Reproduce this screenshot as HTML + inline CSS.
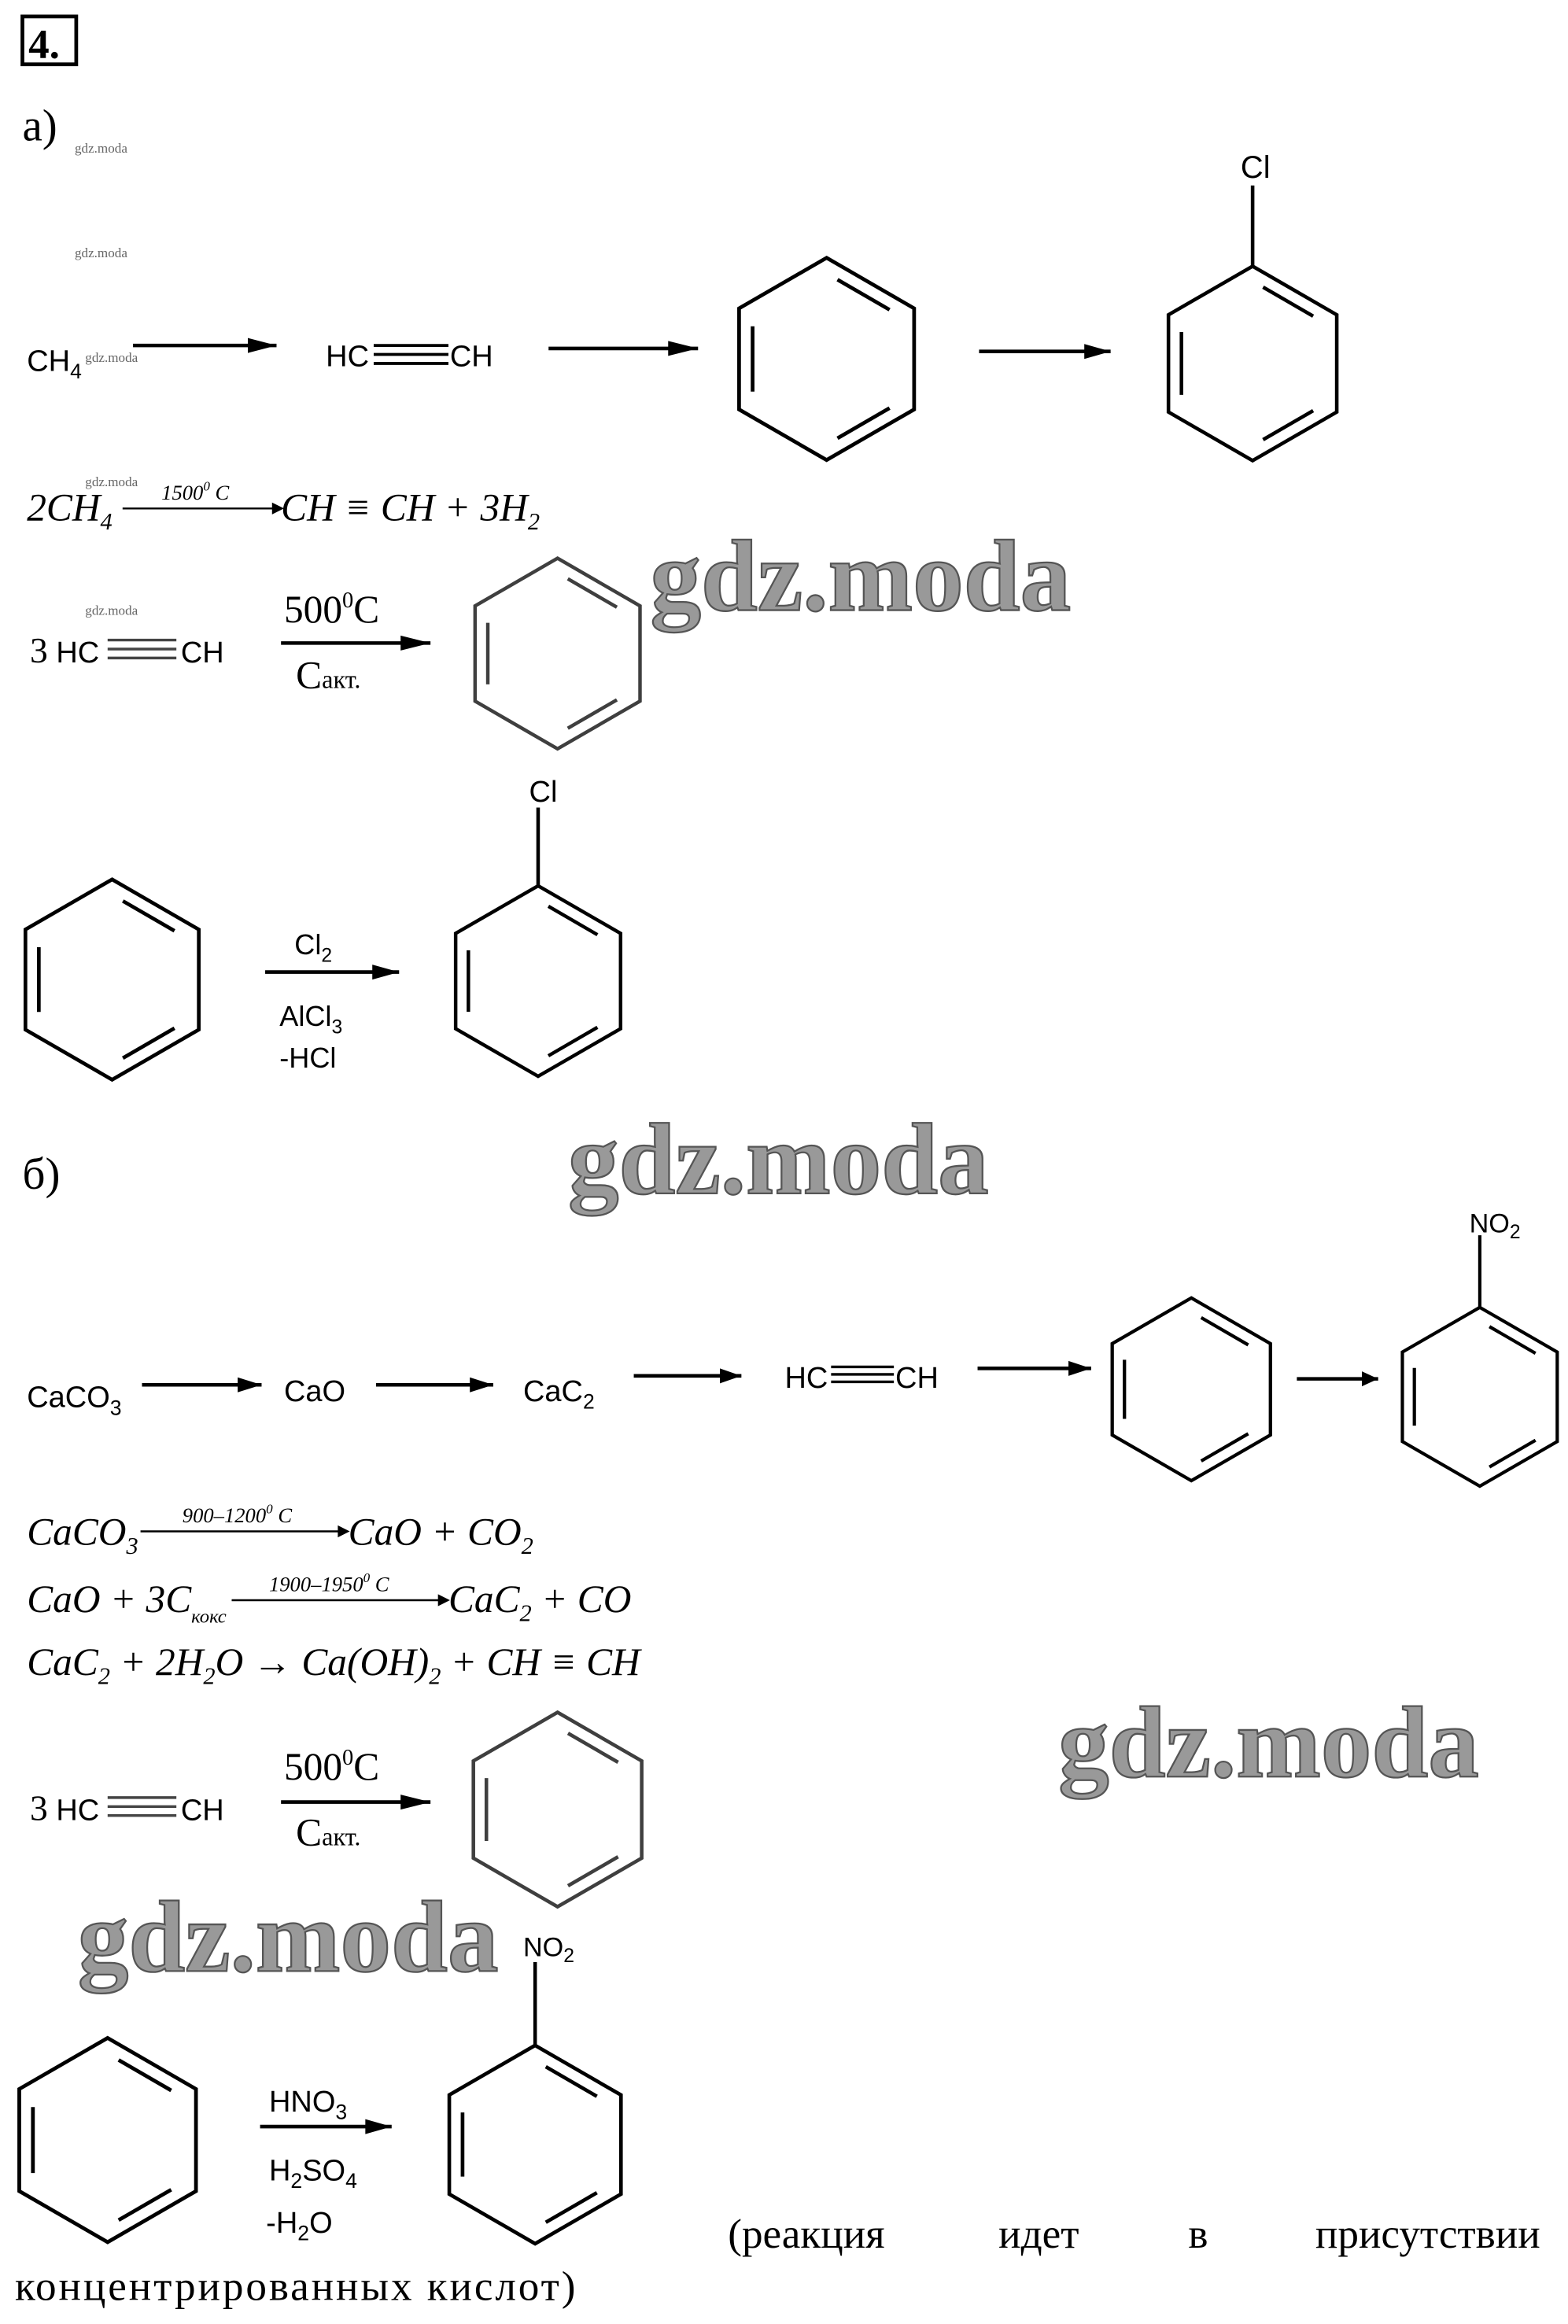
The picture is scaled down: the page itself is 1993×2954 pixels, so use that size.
<!DOCTYPE html>
<html><head><meta charset="utf-8"><style>
html,body{margin:0;padding:0;background:#fff}
svg{display:block}
.s{font-family:"Liberation Sans",sans-serif;fill:#000}
.t{font-family:"Liberation Serif","DejaVu Serif",serif;fill:#000}
.i{font-family:"Liberation Serif",serif;font-style:italic;fill:#000}
.w{font-family:"Liberation Serif",serif;font-weight:bold;fill:#999;stroke:#555;stroke-width:1.2}
.sw{font-family:"Liberation Serif",serif;fill:#666;font-size:9px}
</style></head><body>
<svg width="1993" height="2954" viewBox="0 0 1049 1554" preserveAspectRatio="none" xmlns="http://www.w3.org/2000/svg">
<defs>
<g id="bz" fill="none" stroke="#000" stroke-width="2.4">
<polygon points="0,-65 56.3,-32.5 56.3,32.5 0,65 -56.3,32.5 -56.3,-32.5"/>
<line x1="7" y1="-51" x2="40.5" y2="-31.6"/>
<line x1="-47.6" y1="-21" x2="-47.6" y2="21"/>
<line x1="40.5" y1="31.6" x2="7" y2="51"/>
</g>
<g id="ar"><line x1="0" y1="0" x2="-80" y2="0" stroke="#000" stroke-width="2.4"/><polygon points="0,0 -16,-5 -16,5" fill="#000"/></g>
</defs>
<rect x="15" y="11" width="36" height="32" fill="none" stroke="#000" stroke-width="2.5"/>
<text x="19" y="39" class="t" font-size="28" font-weight="bold">4.</text>
<text x="15" y="94" class="t" font-size="30">а)</text>
<text x="50" y="102" class="sw">gdz.moda</text>
<text x="50" y="172" class="sw">gdz.moda</text>
<text x="57" y="242" class="sw">gdz.moda</text>
<text x="57" y="325" class="sw">gdz.moda</text>
<text x="57" y="411" class="sw">gdz.moda</text>
<!-- row a -->
<text x="18" y="248" class="s" font-size="20">CH<tspan font-size="14" dy="5">4</tspan></text>
<use href="#ar" transform="translate(185,231) scale(1.2,1)"/>
<text x="218" y="245" class="s" font-size="20">HC</text><g stroke="#000" stroke-width="2"><line x1="250" y1="231" x2="300" y2="231"/><line x1="250" y1="237" x2="300" y2="237"/><line x1="250" y1="243" x2="300" y2="243"/></g><text x="301" y="245" class="s" font-size="20">CH</text>
<use href="#ar" transform="translate(467,233) scale(1.25,1)"/>
<use href="#bz" transform="translate(553,240) scale(1.04)"/>
<use href="#ar" transform="translate(743,235) scale(1.1,1)"/>
<use href="#bz" transform="translate(838,243) scale(1.0)"/>
<line x1="838" y1="178" x2="838" y2="124" stroke="#000" stroke-width="2.4"/>
<text x="830" y="119" class="s" font-size="21">Cl</text>
<!-- eq 1 -->
<text x="18" y="348" class="i" font-size="26">2CH<tspan font-size="16" dy="6">4</tspan></text>
<line x1="82" y1="340" x2="186" y2="340" stroke="#000" stroke-width="1.3"/><polygon points="190,340 182,336 182,344" fill="#000"/>
<text x="108" y="334" class="i" font-size="14">1500<tspan font-size="9" dy="-6">0</tspan><tspan dy="6"> C</tspan></text>
<text x="188" y="348" class="i" font-size="26">CH ≡ CH + 3H<tspan font-size="16" dy="6">2</tspan></text>
<!-- 3HC≡CH -->
<text x="20" y="443" class="s" font-size="20" fill="#333"><tspan font-family="Liberation Serif" font-size="24">3</tspan> HC</text>
<g stroke="#444" stroke-width="1.8"><line x1="72" y1="428" x2="118" y2="428"/><line x1="72" y1="434" x2="118" y2="434"/><line x1="72" y1="440" x2="118" y2="440"/></g>
<text x="121" y="443" class="s" font-size="20" fill="#333">CH</text>
<text x="190" y="416" class="t" font-size="26">500<tspan font-size="15" dy="-10">0</tspan><tspan dy="10">C</tspan></text>
<use href="#ar" transform="translate(288,430) scale(1.25,1)"/>
<text x="198" y="460" class="t" font-size="26">С<tspan font-size="17">акт.</tspan></text>
<g opacity="0.75"><use href="#bz" transform="translate(373,437) scale(0.98)"/></g>
<text x="435" y="408" class="w" font-size="68">gdz.moda</text>
<!-- Cl reaction -->
<use href="#bz" transform="translate(75,655) scale(1.03)"/>
<text x="197" y="638" class="s" font-size="19">Cl<tspan font-size="13" dy="5">2</tspan></text>
<use href="#ar" transform="translate(267,650) scale(1.12,1)"/>
<text x="187" y="686" class="s" font-size="19">AlCl<tspan font-size="13" dy="5">3</tspan></text>
<text x="187" y="714" class="s" font-size="19">-HCl</text>
<use href="#bz" transform="translate(360,656) scale(0.98)"/>
<line x1="360" y1="592" x2="360" y2="540" stroke="#000" stroke-width="2.4"/>
<text x="354" y="536" class="s" font-size="20">Cl</text>
<!-- б -->
<text x="15" y="795" class="t" font-size="30">б)</text>
<text x="380" y="798" class="w" font-size="68">gdz.moda</text>
<text x="18" y="941" class="s" font-size="20">CaCO<tspan font-size="14" dy="5">3</tspan></text>
<use href="#ar" transform="translate(175,926) scale(1,1)"/>
<text x="190" y="937" class="s" font-size="20">CaO</text>
<use href="#ar" transform="translate(330,926) scale(0.98,1)"/>
<text x="350" y="937" class="s" font-size="20">CaC<tspan font-size="14" dy="5">2</tspan></text>
<use href="#ar" transform="translate(496,920) scale(0.9,1)"/>
<text x="525" y="928" class="s" font-size="20">HC</text><g stroke="#000" stroke-width="1.8"><line x1="556" y1="914" x2="598" y2="914"/><line x1="556" y1="919" x2="598" y2="919"/><line x1="556" y1="924" x2="598" y2="924"/></g><text x="599" y="928" class="s" font-size="20">CH</text>
<use href="#ar" transform="translate(730,915) scale(0.95,1)"/>
<use href="#bz" transform="translate(797,929) scale(0.94)"/>
<use href="#ar" transform="translate(922,922) scale(0.68,1)"/>
<use href="#bz" transform="translate(990,934) scale(0.92)"/>
<line x1="990" y1="874" x2="990" y2="826" stroke="#000" stroke-width="2.2"/>
<text x="983" y="824" class="s" font-size="18">NO<tspan font-size="13" dy="4">2</tspan></text>
<!-- eqs -->
<text x="18" y="1033" class="i" font-size="26">CaCO<tspan font-size="16" dy="6">3</tspan></text>
<line x1="94" y1="1024" x2="230" y2="1024" stroke="#000" stroke-width="1.3"/><polygon points="234,1024 226,1020 226,1028" fill="#000"/>
<text x="122" y="1018" class="i" font-size="14">900–1200<tspan font-size="9" dy="-6">0</tspan><tspan dy="6"> C</tspan></text>
<text x="233" y="1033" class="i" font-size="26">CaO + CO<tspan font-size="16" dy="6">2</tspan></text>
<text x="18" y="1078" class="i" font-size="26">CaO + 3C<tspan font-size="13" dy="7">кокс</tspan></text>
<line x1="155" y1="1070" x2="297" y2="1070" stroke="#000" stroke-width="1.3"/><polygon points="301,1070 293,1066 293,1074" fill="#000"/>
<text x="180" y="1064" class="i" font-size="14">1900–1950<tspan font-size="9" dy="-6">0</tspan><tspan dy="6"> C</tspan></text>
<text x="300" y="1078" class="i" font-size="26">CaC<tspan font-size="16" dy="6">2</tspan><tspan dy="-6"> + CO</tspan></text>
<text x="18" y="1120" class="i" font-size="26">CaC<tspan font-size="16" dy="6">2</tspan><tspan dy="-6"> + 2H</tspan><tspan font-size="16" dy="6">2</tspan><tspan dy="-6">O → Ca(OH)</tspan><tspan font-size="16" dy="6">2</tspan><tspan dy="-6"> + CH ≡ CH</tspan></text>
<text x="708" y="1188" class="w" font-size="68">gdz.moda</text>
<!-- 3HC≡CH 2 -->
<text x="20" y="1217" class="s" font-size="20" fill="#333"><tspan font-family="Liberation Serif" font-size="24">3</tspan> HC</text>
<g stroke="#444" stroke-width="1.8"><line x1="72" y1="1202" x2="118" y2="1202"/><line x1="72" y1="1208" x2="118" y2="1208"/><line x1="72" y1="1214" x2="118" y2="1214"/></g>
<text x="121" y="1217" class="s" font-size="20" fill="#333">CH</text>
<text x="190" y="1190" class="t" font-size="26">500<tspan font-size="15" dy="-10">0</tspan><tspan dy="10">C</tspan></text>
<use href="#ar" transform="translate(288,1205) scale(1.25,1)"/>
<text x="198" y="1234" class="t" font-size="26">С<tspan font-size="17">акт.</tspan></text>
<g opacity="0.75"><use href="#bz" transform="translate(373,1210) scale(1.0)"/></g>
<text x="52" y="1318" class="w" font-size="68">gdz.moda</text>
<!-- nitration -->
<use href="#bz" transform="translate(72,1431) scale(1.05)"/>
<text x="180" y="1412" class="s" font-size="20">HNO<tspan font-size="14" dy="5">3</tspan></text>
<use href="#ar" transform="translate(262,1422) scale(1.1,1)"/>
<text x="180" y="1458" class="s" font-size="20">H<tspan font-size="14" dy="5">2</tspan><tspan dy="-5">SO</tspan><tspan font-size="14" dy="5">4</tspan></text>
<text x="178" y="1493" class="s" font-size="20">-H<tspan font-size="14" dy="5">2</tspan><tspan dy="-5">O</tspan></text>
<use href="#bz" transform="translate(358,1434) scale(1.02)"/>
<line x1="358" y1="1368" x2="358" y2="1312" stroke="#000" stroke-width="2.4"/>
<text x="350" y="1308" class="s" font-size="18">NO<tspan font-size="13" dy="4">2</tspan></text>
<text y="1503" class="t" font-size="28"><tspan x="487">(реакция</tspan><tspan x="668">идет</tspan><tspan x="795">в</tspan><tspan x="880">присутствии</tspan></text>
<text x="10" y="1538" class="t" font-size="28" textLength="375" lengthAdjust="spacing">концентрированных кислот)</text>
</svg>
</body></html>
